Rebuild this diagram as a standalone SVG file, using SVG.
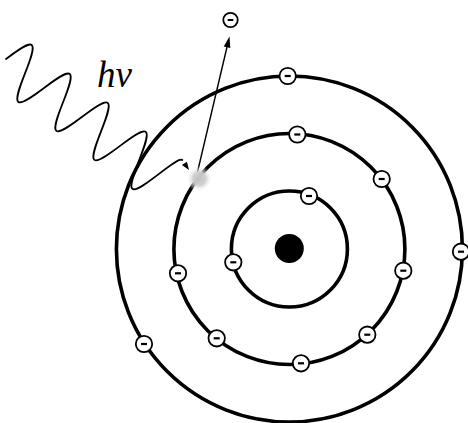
<svg xmlns="http://www.w3.org/2000/svg" xmlns:xlink="http://www.w3.org/1999/xlink" width="468" height="423" viewBox="0 0 468 423">
  <style>
    .orbit { fill: none; stroke: #000; stroke-width: 3.6; }
    .ecirc { fill: #fff; stroke: #000; stroke-width: 1.8; }
    .ebar { fill: #000; }
    .wave { fill: none; stroke: #000; stroke-width: 1.8; stroke-linejoin: round; stroke-linecap: round; }
    .line { fill: none; stroke: #000; stroke-width: 1.4; }
    .head { fill: #000; }
    .label { font-family: "Liberation Serif", "DejaVu Serif", serif; font-style: italic; font-size: 37px; fill: #000; }
  </style>
  <defs>
    <g id="electron">
      <circle class="ecirc" r="8.2"/>
      <rect class="ebar" x="-3" y="-1.1" width="6" height="2.2"/>
    </g>
    <radialGradient id="blobGrad" cx="0.5" cy="0.5" r="0.5">
      <stop offset="0" stop-color="#c4c4c4" stop-opacity="1"/>
      <stop offset="0.5" stop-color="#cecece" stop-opacity="0.95"/>
      <stop offset="1" stop-color="#ffffff" stop-opacity="0"/>
    </radialGradient>
  </defs>

  <g id="orbits">
    <circle id="orbit-outer" class="orbit" cx="289.4" cy="249" r="173"/>
    <circle id="orbit-middle" class="orbit" cx="289.4" cy="249" r="115.5"/>
    <circle id="orbit-inner" class="orbit" cx="289.4" cy="249" r="58"/>
  </g>

  <g id="nucleus">
    <circle cx="289.3" cy="248.5" r="14.5" fill="#000"/>
  </g>

  <g id="connectors">
    <path class="wave" transform="translate(15.5 66.2) rotate(37.3)" d="M -11.95 0 C -8.05 -13.68 -4.32 -26.7 0 -26.7 C 8.69 -26.7 15.21 26.7 23.9 26.7 S 39.11 -26.7 47.8 -26.7 S 62.91 26.7 71.7 26.7 S 86.91 -26.7 95.6 -26.7 S 110.81 26.7 119.5 26.7 S 134.71 -26.7 143.4 -26.7 S 158.61 26.7 167.3 26.7 S 182.51 -26.7 189.5 -26.5"/>
    <polygon class="head" points="189,170 186.9,161.7 181.9,165.1"/>
    <line class="line" x1="197.5" y1="172" x2="227" y2="47"/>
    <polygon class="head" points="229.5,36.5 230.3,48 223.7,46.5"/>
  </g>

  <g id="blob">
    <circle cx="199.3" cy="178.8" r="13" fill="url(#blobGrad)"/>
  </g>

  <g id="electrons">
    <g id="e-free"><circle class="ecirc" cx="230.5" cy="20" r="7.2" stroke-width="1.7"/><rect class="ebar" x="227.7" y="19" width="5.6" height="2"/></g>
    <g id="e-in-1"><use xlink:href="#electron" x="309" y="196"/></g>
    <g id="e-in-2"><use xlink:href="#electron" x="233.3" y="262.3"/></g>
    <g id="e-mid-1"><use xlink:href="#electron" x="297.3" y="134.5"/></g>
    <g id="e-mid-2"><use xlink:href="#electron" x="381.7" y="179"/></g>
    <g id="e-mid-3"><use xlink:href="#electron" x="403.3" y="270.7"/></g>
    <g id="e-mid-4"><use xlink:href="#electron" x="367.3" y="334.7"/></g>
    <g id="e-mid-5"><use xlink:href="#electron" x="301" y="363.3"/></g>
    <g id="e-mid-6"><use xlink:href="#electron" x="216.7" y="338.3"/></g>
    <g id="e-mid-7"><use xlink:href="#electron" x="178" y="273.3"/></g>
    <g id="e-out-1"><use xlink:href="#electron" x="287.7" y="76"/></g>
    <g id="e-out-2"><use xlink:href="#electron" x="461" y="251.7"/></g>
    <g id="e-out-3"><use xlink:href="#electron" x="144" y="344"/></g>
  </g>

  <g id="photon-label">
    <text class="label" x="97" y="87">hν</text>
  </g>
</svg>
